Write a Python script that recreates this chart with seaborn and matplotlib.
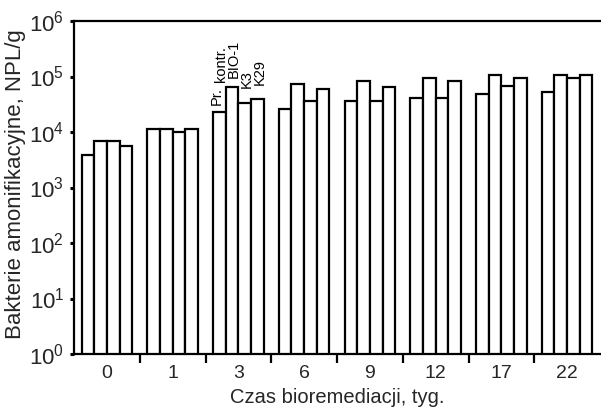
import numpy as np
import pandas as pd
import matplotlib
matplotlib.use("Agg")
import matplotlib.pyplot as plt
import seaborn as sns

weeks = ["0", "1", "3", "6", "9", "12", "17", "22"]
series = ["Pr. kontr.", "BIO-1", "K3", "K29"]
pr_kontr = [3.85e3, 1.12e4, 2.26e4, 2.56e4, 3.66e4, 4.15e4, 4.78e4, 5.26e4]
bio1 = [7.0e3, 1.12e4, 6.4e4, 7.3e4, 8.3e4, 9.5e4, 1.06e5, 1.08e5]
k3 = [7.0e3, 1.0e4, 3.29e4, 3.62e4, 3.62e4, 4.15e4, 6.74e4, 9.27e4]
k29 = [5.5e3, 1.12e4, 3.98e4, 5.88e4, 6.55e4, 8.4e4, 9.5e4, 1.08e5]

df = pd.DataFrame({
    "week": weeks * 4,
    "series": [s for s in series for _ in weeks],
    "value": pr_kontr + bio1 + k3 + k29,
})

sns.set_theme(style="white")
plt.rcParams["font.family"] = ["Liberation Sans", "DejaVu Sans"]
plt.rcParams["mathtext.fontset"] = "custom"
plt.rcParams["mathtext.rm"] = "Liberation Sans"
plt.rcParams["mathtext.it"] = "Liberation Sans"
plt.rcParams["mathtext.bf"] = "Liberation Sans"

fig = plt.figure(figsize=(6.01, 4.11), dpi=100)
ax = fig.add_axes([74 / 601, 1 - 354 / 411, 526 / 601, (354 - 21) / 411])

sns.barplot(data=df, x="week", y="value", hue="series", order=weeks,
            hue_order=series, palette=["white"] * 4, edgecolor="black",
            linewidth=1.6, width=0.77, saturation=1, legend=False, ax=ax,
            errorbar=None)
ax.set_yscale("log")
ax.set_ylim(1, 1e6)
ax.set_xlim(-0.5, 7.5)

for s in ["top", "left", "bottom"]:
    ax.spines[s].set_linewidth(1.6)
    ax.spines[s].set_color("black")
ax.spines["right"].set_visible(False)

ax.set_yticks([10.0 ** k for k in range(7)])
ax.yaxis.set_minor_locator(matplotlib.ticker.NullLocator())
ax.tick_params(axis="y", which="major", direction="out", length=3, width=2.2,
               color="black", labelsize=16, pad=4, left=True)

ax.set_xticks(range(len(weeks)))
ax.set_xticklabels(weeks)
ax.set_xticks(np.arange(0.5, 7.0, 1.0), minor=True)
ax.tick_params(axis="x", which="major", length=0, labelsize=14, pad=8)
ax.tick_params(axis="x", which="minor", direction="out", length=6.5,
               width=1.6, color="black", bottom=True)

ax.set_xlabel("Czas bioremediacji, tyg.", fontsize=14.5)
ax.xaxis.set_label_coords(0.5, -0.102)
ax.set_ylabel("Bakterie amonifikacyjne, NPL/g", fontsize=16)
ax.yaxis.set_label_coords(-0.091, 0.51)

# series labels above week 3 group
grp = 2
n = len(series)
bw = 0.77 / n
xs = [grp - 0.77 / 2 + bw * (i + 0.5) for i in range(n)]
lab_kw = dict(rotation=90, fontsize=10.5, ha="center", va="bottom",
              color="black")
ax.text(xs[0] - 0.037, 3.06e4, "Pr.", **lab_kw)
ax.text(xs[0] + 0.032, 7.96e4, "kontr.", **lab_kw)
ax.text(xs[1] + 0.029, 9.4e4, "BIO-1", **lab_kw)
ax.text(xs[2] + 0.035, 6.2e4, "K3", **lab_kw)
ax.text(xs[3] + 0.032, 7.03e4, "K29", **lab_kw)

fig.savefig("out.png", dpi=100)
